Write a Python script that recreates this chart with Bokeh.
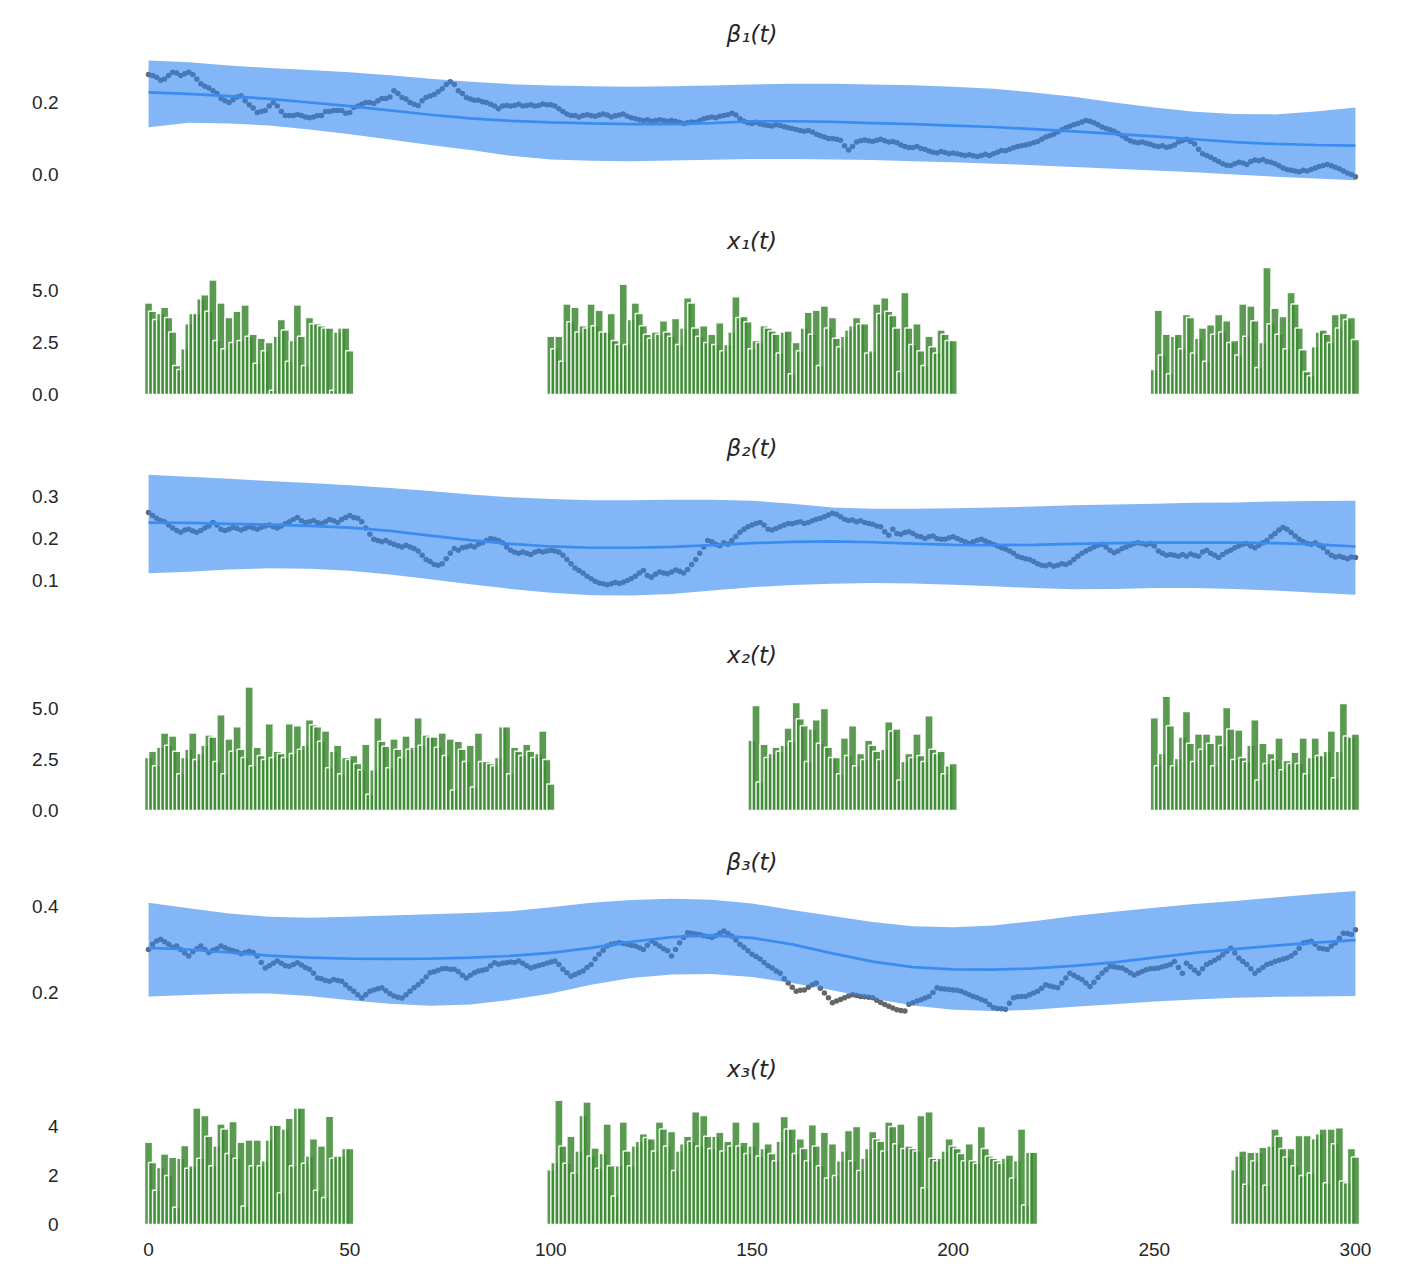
from bokeh.plotting import figure
from bokeh.layouts import column
from bokeh.models import Range1d, FixedTicker, NumeralTickFormatter
from bokeh.embed import file_html
from bokeh.resources import INLINE

# ---------------- data ----------------
titles = ["β₁(t)", "x₁(t)", "β₂(t)", "x₂(t)", "β₃(t)", "x₃(t)"]
x_ticks = [0, 50, 100, 150, 200, 250, 300]

beta1_obs = [
    0.278,0.275,0.270,0.262,0.265,0.275,0.284,0.282,0.275,0.280,
    0.284,0.278,0.265,0.252,0.245,0.240,0.233,0.225,0.212,0.205,
    0.200,0.208,0.215,0.219,0.205,0.194,0.185,0.172,0.175,0.178,
    0.190,0.200,0.190,0.175,0.164,0.164,0.164,0.167,0.164,0.160,
    0.158,0.160,0.164,0.164,0.175,0.175,0.178,0.178,0.178,0.170,
    0.172,0.186,0.190,0.195,0.200,0.200,0.197,0.205,0.211,0.211,
    0.215,0.233,0.225,0.214,0.210,0.200,0.195,0.192,0.205,0.214,
    0.218,0.222,0.230,0.238,0.250,0.258,0.250,0.233,0.225,0.214,
    0.210,0.206,0.206,0.202,0.200,0.195,0.190,0.183,0.190,0.192,
    0.190,0.192,0.195,0.190,0.192,0.194,0.190,0.192,0.196,0.194,
    0.194,0.190,0.183,0.175,0.168,0.164,0.164,0.160,0.164,0.166,
    0.164,0.162,0.165,0.168,0.165,0.160,0.163,0.165,0.168,0.162,
    0.158,0.155,0.152,0.150,0.152,0.148,0.150,0.152,0.150,0.148,
    0.150,0.148,0.145,0.142,0.144,0.146,0.145,0.150,0.155,0.158,
    0.160,0.158,0.162,0.164,0.166,0.170,0.165,0.155,0.148,0.144,
    0.142,0.145,0.140,0.138,0.136,0.135,0.138,0.136,0.133,0.130,
    0.128,0.125,0.122,0.120,0.122,0.118,0.112,0.108,0.104,0.100,
    0.100,0.098,0.095,0.080,0.068,0.078,0.090,0.094,0.096,0.094,
    0.092,0.095,0.098,0.094,0.090,0.092,0.088,0.082,0.078,0.075,
    0.075,0.078,0.072,0.070,0.065,0.062,0.060,0.064,0.061,0.058,
    0.060,0.058,0.055,0.053,0.055,0.052,0.050,0.053,0.056,0.053,
    0.058,0.062,0.067,0.066,0.070,0.074,0.078,0.080,0.082,0.085,
    0.088,0.092,0.098,0.104,0.108,0.112,0.118,0.124,0.130,0.134,
    0.138,0.142,0.146,0.150,0.148,0.144,0.138,0.132,0.128,0.124,
    0.120,0.114,0.108,0.100,0.094,0.090,0.088,0.090,0.087,0.084,
    0.080,0.078,0.080,0.076,0.078,0.082,0.090,0.094,0.098,0.092,
    0.085,0.070,0.058,0.053,0.048,0.042,0.036,0.030,0.026,0.025,
    0.030,0.034,0.032,0.028,0.036,0.040,0.038,0.042,0.036,0.034,
    0.030,0.024,0.018,0.014,0.012,0.010,0.008,0.012,0.010,0.014,
    0.018,0.022,0.025,0.028,0.024,0.020,0.016,0.010,0.004,0.000,
    -0.006]

beta2_obs = [
    0.262,0.255,0.248,0.243,0.240,0.232,0.225,0.219,0.215,0.220,
    0.222,0.218,0.215,0.219,0.225,0.230,0.238,0.232,0.222,0.219,
    0.222,0.226,0.224,0.220,0.224,0.228,0.225,0.222,0.226,0.230,
    0.232,0.228,0.225,0.230,0.235,0.240,0.245,0.250,0.242,0.238,
    0.240,0.243,0.238,0.236,0.240,0.245,0.242,0.238,0.245,0.250,
    0.255,0.250,0.248,0.240,0.225,0.210,0.198,0.195,0.192,0.195,
    0.190,0.186,0.183,0.180,0.184,0.180,0.176,0.170,0.160,0.150,
    0.145,0.138,0.136,0.140,0.152,0.165,0.176,0.172,0.178,0.180,
    0.183,0.180,0.186,0.190,0.195,0.200,0.198,0.195,0.190,0.180,
    0.172,0.167,0.165,0.168,0.165,0.162,0.167,0.170,0.168,0.170,
    0.172,0.170,0.168,0.160,0.150,0.140,0.130,0.124,0.118,0.110,
    0.104,0.098,0.094,0.092,0.090,0.092,0.095,0.093,0.096,0.100,
    0.105,0.110,0.118,0.124,0.112,0.108,0.115,0.120,0.118,0.116,
    0.120,0.125,0.122,0.118,0.126,0.138,0.150,0.165,0.180,0.195,
    0.192,0.186,0.183,0.190,0.186,0.195,0.205,0.215,0.222,0.228,
    0.232,0.236,0.238,0.232,0.222,0.220,0.224,0.228,0.232,0.236,
    0.235,0.238,0.240,0.236,0.238,0.242,0.246,0.248,0.252,0.256,
    0.260,0.258,0.252,0.246,0.243,0.244,0.240,0.242,0.238,0.236,
    0.234,0.230,0.228,0.216,0.208,0.222,0.212,0.210,0.214,0.216,
    0.212,0.206,0.204,0.200,0.204,0.206,0.200,0.198,0.198,0.202,
    0.204,0.200,0.196,0.192,0.188,0.192,0.196,0.198,0.194,0.190,
    0.186,0.182,0.178,0.175,0.170,0.165,0.158,0.155,0.152,0.150,
    0.145,0.140,0.136,0.135,0.138,0.134,0.136,0.140,0.138,0.142,
    0.150,0.158,0.165,0.170,0.175,0.180,0.184,0.186,0.180,0.172,
    0.166,0.170,0.176,0.180,0.184,0.188,0.190,0.188,0.185,0.188,
    0.182,0.170,0.165,0.160,0.162,0.160,0.158,0.162,0.158,0.163,
    0.160,0.158,0.168,0.172,0.165,0.160,0.155,0.162,0.168,0.172,
    0.178,0.182,0.186,0.188,0.182,0.178,0.184,0.190,0.195,0.205,
    0.212,0.220,0.226,0.222,0.214,0.206,0.198,0.192,0.188,0.186,
    0.190,0.184,0.178,0.168,0.160,0.156,0.158,0.155,0.152,0.156,
    0.155]

beta3_obs = [
    0.300,0.312,0.320,0.324,0.318,0.312,0.305,0.308,0.300,0.292,
    0.285,0.295,0.302,0.308,0.300,0.293,0.298,0.302,0.308,0.304,
    0.300,0.297,0.295,0.290,0.293,0.296,0.293,0.285,0.270,0.257,
    0.262,0.268,0.273,0.268,0.262,0.261,0.265,0.269,0.264,0.258,
    0.254,0.245,0.234,0.232,0.228,0.226,0.230,0.228,0.226,0.218,
    0.210,0.203,0.195,0.187,0.195,0.203,0.206,0.209,0.211,0.204,
    0.197,0.192,0.189,0.187,0.195,0.203,0.211,0.218,0.226,0.236,
    0.246,0.248,0.252,0.255,0.256,0.254,0.254,0.248,0.240,0.234,
    0.240,0.246,0.250,0.252,0.254,0.262,0.269,0.266,0.268,0.269,
    0.271,0.270,0.273,0.268,0.262,0.257,0.260,0.263,0.265,0.268,
    0.271,0.273,0.265,0.254,0.246,0.238,0.242,0.246,0.250,0.258,
    0.265,0.278,0.289,0.298,0.308,0.312,0.314,0.316,0.314,0.312,
    0.310,0.308,0.304,0.300,0.310,0.320,0.314,0.308,0.302,0.297,
    0.285,0.300,0.316,0.328,0.339,0.338,0.336,0.335,0.332,0.330,
    0.328,0.332,0.338,0.343,0.337,0.331,0.322,0.312,0.305,0.297,
    0.289,0.284,0.278,0.270,0.262,0.257,0.250,0.245,0.232,0.222,
    0.212,0.203,0.205,0.206,0.212,0.218,0.222,0.210,0.199,0.188,
    0.176,0.180,0.184,0.188,0.192,0.195,0.193,0.191,0.190,0.189,
    0.188,0.182,0.177,0.172,0.168,0.164,0.160,0.158,0.157,0.173,
    0.176,0.180,0.183,0.187,0.191,0.200,0.211,0.209,0.208,0.207,
    0.206,0.205,0.203,0.199,0.195,0.191,0.188,0.184,0.180,0.172,
    0.165,0.163,0.162,0.161,0.175,0.188,0.190,0.191,0.191,0.195,
    0.199,0.203,0.210,0.218,0.215,0.213,0.211,0.222,0.234,0.245,
    0.240,0.235,0.230,0.222,0.214,0.224,0.235,0.245,0.253,0.261,
    0.260,0.258,0.257,0.252,0.246,0.241,0.245,0.249,0.253,0.255,
    0.256,0.257,0.260,0.262,0.265,0.272,0.258,0.245,0.268,0.260,
    0.252,0.245,0.255,0.265,0.270,0.275,0.280,0.288,0.296,0.303,
    0.292,0.280,0.272,0.265,0.255,0.245,0.252,0.258,0.265,0.268,
    0.272,0.275,0.278,0.280,0.285,0.292,0.303,0.315,0.317,0.319,
    0.312,0.303,0.302,0.300,0.308,0.315,0.326,0.338,0.337,0.335,
    0.346]

band_t = [0,10,20,30,40,50,60,70,80,90,100,110,120,130,140,150,
          160,170,180,190,200,210,220,230,240,250,260,270,280,290,300]

beta1_mean = [0.228,0.224,0.218,0.210,0.200,0.190,0.178,0.166,0.156,0.149,0.145,0.142,0.140,0.140,0.143,0.148,
              0.148,0.146,0.143,0.140,0.136,0.132,0.126,0.120,0.113,0.106,0.098,0.090,0.085,0.082,0.080]
beta1_hi = [0.317,0.312,0.303,0.296,0.290,0.284,0.276,0.266,0.258,0.251,0.247,0.245,0.244,0.245,0.247,0.250,
            0.252,0.252,0.250,0.248,0.244,0.238,0.228,0.216,0.200,0.186,0.174,0.168,0.167,0.175,0.186]
beta1_lo = [0.131,0.144,0.142,0.136,0.125,0.112,0.097,0.082,0.068,0.052,0.042,0.038,0.037,0.039,0.041,0.043,
            0.043,0.042,0.040,0.037,0.034,0.030,0.026,0.021,0.016,0.011,0.006,0.000,-0.006,-0.011,-0.016]

beta2_mean = [0.238,0.237,0.235,0.233,0.230,0.226,0.218,0.207,0.196,0.187,0.181,0.178,0.178,0.180,0.184,0.189,
              0.192,0.193,0.191,0.188,0.185,0.184,0.185,0.187,0.189,0.190,0.190,0.190,0.189,0.186,0.181]
beta2_hi = [0.352,0.347,0.342,0.337,0.332,0.327,0.320,0.313,0.305,0.298,0.294,0.291,0.291,0.292,0.292,0.290,
            0.283,0.274,0.271,0.271,0.272,0.274,0.276,0.279,0.281,0.283,0.285,0.286,0.288,0.289,0.290]
beta2_lo = [0.117,0.121,0.126,0.129,0.128,0.123,0.114,0.103,0.091,0.080,0.071,0.065,0.064,0.068,0.076,0.084,
            0.089,0.092,0.094,0.093,0.090,0.086,0.082,0.079,0.080,0.082,0.082,0.080,0.076,0.071,0.066]

beta3_mean = [0.304,0.300,0.293,0.286,0.281,0.279,0.278,0.279,0.281,0.285,0.292,0.304,0.318,0.329,0.333,0.327,
              0.312,0.291,0.272,0.259,0.254,0.253,0.256,0.262,0.270,0.281,0.292,0.301,0.309,0.316,0.322]
beta3_hi = [0.409,0.396,0.384,0.376,0.374,0.376,0.379,0.382,0.385,0.389,0.398,0.409,0.415,0.418,0.416,0.407,
            0.392,0.378,0.364,0.354,0.352,0.356,0.366,0.378,0.388,0.397,0.406,0.413,0.421,0.429,0.436]
beta3_lo = [0.191,0.194,0.197,0.198,0.192,0.182,0.174,0.169,0.172,0.183,0.198,0.218,0.234,0.242,0.243,0.236,
            0.222,0.205,0.186,0.170,0.160,0.157,0.160,0.167,0.173,0.179,0.184,0.188,0.190,0.191,0.192]

# bar series: segments (first t, values per step)
x1_starts = [0, 100, 250]
x1_vals = [
    [4.4,4.0,3.6,3.9,4.2,3.7,3.0,1.4,1.2,2.2,3.4,3.9,3.9,4.6,4.8,4.0,5.5,2.6,4.4,2.2,
     3.7,2.5,4.0,2.6,4.3,2.8,2.9,1.5,2.7,2.1,2.5,0.2,2.8,3.6,3.1,1.6,2.6,4.3,2.8,1.4,
     3.7,3.4,3.4,3.3,3.2,3.2,0.2,3.0,3.2,3.2,2.1],
    [2.8,2.2,2.8,1.6,4.35,3.5,4.2,3.0,3.3,3.2,4.35,3.3,4.05,3.0,3.0,3.9,2.6,2.4,5.3,2.4,
     3.6,4.4,3.9,3.3,2.9,2.7,3.0,2.9,3.55,3.0,2.8,3.65,2.4,3.2,4.65,4.4,3.2,2.8,3.3,2.5,
     2.9,2.4,3.45,2.1,2.4,3.0,4.7,3.7,3.75,3.5,2.2,2.6,2.5,3.3,3.2,3.05,2.9,2.0,3.0,3.05,
     1.0,2.5,2.1,3.2,3.95,2.9,4.05,1.4,4.25,3.2,3.7,2.7,2.3,2.8,3.1,3.3,3.7,3.4,3.4,2.0,
     2.1,4.35,3.9,4.65,4.0,3.8,3.2,1.1,4.9,3.2,2.4,3.4,2.1,1.4,2.8,2.3,2.0,3.1,2.9,2.6,
     2.6],
    [1.2,4.05,1.9,2.9,1.0,2.8,2.9,2.2,3.85,3.7,2.0,2.7,3.2,1.6,3.35,2.9,3.85,3.0,3.55,2.5,
     2.6,1.9,4.35,2.8,4.25,3.55,1.3,2.5,6.1,3.4,4.15,2.9,3.75,2.2,4.9,4.35,3.2,2.15,1.1,0.9,
     2.3,3.0,3.1,2.9,2.5,3.85,3.2,3.9,3.6,3.7,2.65],
]

x2_starts = [0, 150, 250]
x2_vals = [
    [2.6,2.9,2.2,3.1,3.8,3.2,3.65,2.9,1.8,2.6,3.0,3.8,2.5,2.8,3.2,3.7,3.6,2.4,4.7,1.8,
     3.5,2.9,4.1,3.0,2.6,6.05,2.2,3.1,2.7,2.5,4.25,2.6,2.9,2.8,2.6,4.25,2.8,4.15,3.0,3.2,
     4.45,4.2,4.1,3.4,3.9,2.1,2.9,3.2,1.8,2.6,2.5,2.7,2.3,2.0,3.25,0.8,2.0,4.55,3.4,3.15,
     2.1,3.5,3.0,2.6,3.65,3.0,3.1,4.55,3.2,3.7,3.6,3.6,3.1,3.8,2.7,3.5,1.0,3.4,3.0,2.4,
     3.2,1.15,3.8,2.4,2.4,2.3,2.2,2.6,4.1,4.1,1.8,3.1,2.9,2.7,3.25,2.9,2.6,2.8,3.9,2.5,
     1.3],
    [3.45,5.15,1.4,3.25,2.6,2.8,3.1,2.9,3.2,4.05,3.4,5.3,4.5,4.15,2.4,4.0,4.45,3.3,5.0,3.1,
     2.6,2.6,1.8,3.55,2.7,4.15,2.2,2.8,2.5,3.45,3.2,2.9,2.5,3.0,4.35,3.9,4.0,1.5,2.4,2.8,
     2.6,3.75,2.7,2.4,4.65,3.0,2.8,2.9,1.8,2.2,2.3],
    [4.55,2.2,2.8,5.6,4.15,2.2,2.55,3.6,4.85,3.3,2.4,3.75,3.0,3.75,3.3,2.2,3.7,3.2,5.05,4.0,
     2.5,3.95,2.6,2.4,3.2,4.45,1.5,3.3,2.3,2.8,2.5,3.55,2.0,2.45,2.3,2.85,2.3,3.55,1.8,2.6,
     3.55,2.7,2.7,2.9,3.9,1.6,2.9,5.25,3.65,3.6,3.75],
]

x3_starts = [0, 100, 270]
x3_vals = [
    [3.36,2.53,1.4,2.33,2.88,2.0,2.74,0.7,2.7,3.22,2.3,2.4,4.75,2.7,4.45,3.6,2.4,3.2,4.1,3.9,
     2.9,4.2,2.7,3.36,0.75,3.45,2.4,3.45,2.4,2.6,3.45,4.05,4.05,1.3,3.9,4.34,2.4,4.75,4.75,2.5,
     2.8,3.5,1.4,3.2,1.1,4.42,2.7,2.8,2.8,3.1,3.1],
    [2.23,2.53,5.07,3.2,2.5,3.6,2.1,3.0,4.45,5.0,2.8,3.12,2.3,2.9,4.1,2.4,1.16,2.4,4.18,3.0,
     2.4,3.2,3.4,3.7,3.55,3.5,3.0,4.18,3.9,3.2,3.8,2.2,3.0,3.3,3.6,3.4,4.6,3.2,4.45,3.6,
     3.1,3.6,3.77,3.0,3.4,3.2,4.18,3.2,3.36,2.9,3.2,4.18,2.8,3.1,3.3,2.9,2.6,3.4,4.41,3.9,
     3.9,2.9,3.5,3.1,2.6,4.07,3.2,2.4,3.77,1.9,3.3,2.0,2.6,3.0,3.84,2.6,4.0,2.2,2.7,3.1,
     3.8,3.5,3.4,3.0,4.18,4.0,3.3,4.1,3.1,3.2,3.1,3.0,4.45,1.5,4.6,2.7,2.6,2.7,3.0,3.5,
     3.2,3.1,2.9,2.6,3.3,2.6,2.5,4.0,3.1,2.8,2.7,2.6,2.5,2.7,2.84,1.9,2.6,3.9,0.8,2.95,
     2.95],
    [2.23,2.8,3.0,1.64,2.95,2.6,2.95,3.15,1.6,3.2,3.9,3.6,3.1,2.75,3.1,2.4,3.63,2.0,3.63,2.1,
     3.5,3.7,3.9,1.7,3.9,3.3,3.95,1.78,1.7,3.1,2.75],
]

beta1_ticks = [0.0, 0.2]
x1_ticks = [0.0, 2.5, 5.0]
beta2_ticks = [0.1, 0.2, 0.3]
x2_ticks = [0.0, 2.5, 5.0]
beta3_ticks = [0.2, 0.4]
x3_ticks = [0, 2, 4]

# ---------------- styling ----------------
BAND = "#2f86f2"
LINE = "#3a8cf0"
DOT = "#666666"
GREEN = "#3d8933"
TXT = "#262626"
TICK_FONT = "Liberation Sans"


def make_fig(title, yr, ticks, fmt, height, top_border, bottom_border, last):
    p = figure(width=1383, height=height,
               x_range=Range1d(-2, 302), y_range=Range1d(yr[0], yr[1]),
               output_backend="svg", toolbar_location=None,
               min_border_left=140, min_border_right=20,
               min_border_top=top_border, min_border_bottom=bottom_border,
               background_fill_color="white", border_fill_color="white",
               outline_line_color=None)
    p.title.text = title
    p.title.align = "center"
    p.title.text_font = "DejaVu Sans"
    p.title.text_font_style = "italic"
    p.title.text_font_size = "23px"
    p.title.text_color = "#262626"
    p.title.standoff = 17
    p.grid.visible = False
    p.yaxis.ticker = FixedTicker(ticks=ticks)
    p.yaxis.formatter = NumeralTickFormatter(format=fmt)
    p.yaxis.axis_line_color = None
    p.yaxis.major_tick_line_color = None
    p.yaxis.minor_tick_line_color = None
    p.yaxis.major_label_standoff = 76
    p.yaxis.major_label_text_font = TICK_FONT
    p.yaxis.major_label_text_font_size = "19px"
    p.yaxis.major_label_text_color = TXT
    if last:
        p.xaxis.ticker = FixedTicker(ticks=x_ticks)
        p.xaxis.axis_line_color = None
        p.xaxis.major_tick_line_color = None
        p.xaxis.minor_tick_line_color = None
        p.xaxis.major_label_standoff = 6
        p.xaxis.major_label_text_font = TICK_FONT
        p.xaxis.major_label_text_font_size = "19px"
        p.xaxis.major_label_text_color = TXT
    else:
        p.xaxis.visible = False
    return p


def beta_fig(title, obs, mean, lo, hi, yr, ticks, height=207, top_border=47):
    p = make_fig(title, yr, ticks, "0.0", height, top_border, 10, False)
    p.scatter(list(range(len(obs))), obs, size=5.5, color=DOT, line_color=None)
    p.varea(x=band_t, y1=lo, y2=hi, fill_color=BAND, fill_alpha=0.6)
    p.line(band_t, mean, line_color=LINE, line_width=2.7)
    return p


def bar_fig(title, starts, vals, yr, ticks, fmt, height, bottom_border, last):
    p = make_fig(title, yr, ticks, fmt, height, 47, bottom_border, last)
    for s, v in zip(starts, vals):
        p.vbar(x=list(range(s, s + len(v))), top=v, bottom=0, width=2.0,
               fill_color=GREEN, fill_alpha=0.85,
               line_color="white", line_alpha=0.9, line_width=1.5)
    return p


f1 = beta_fig(titles[0], beta1_obs, beta1_mean, beta1_lo, beta1_hi, (-0.0861, 0.3306), beta1_ticks,
              height=215, top_border=55)
f2 = bar_fig(titles[1], x1_starts, x1_vals, (-0.865, 6.346), x1_ticks, "0.0", 207, 10, False)
f3 = beta_fig(titles[2], beta2_obs, beta2_mean, beta2_lo, beta2_hi, (0.0071, 0.3643), beta2_ticks)
f4 = bar_fig(titles[3], x2_starts, x2_vals, (-0.784, 6.569), x2_ticks, "0.0", 207, 10, False)
f5 = beta_fig(titles[4], beta3_obs, beta3_mean, beta3_lo, beta3_hi, (0.1047, 0.4535), beta3_ticks)
f6 = bar_fig(titles[5], x3_starts, x3_vals, (-0.245, 5.469), x3_ticks, "0", 227, 40, True)

layout = column(f1, f2, f3, f4, f5, f6, spacing=0)
open("out.html", "w").write(file_html(layout, INLINE))
